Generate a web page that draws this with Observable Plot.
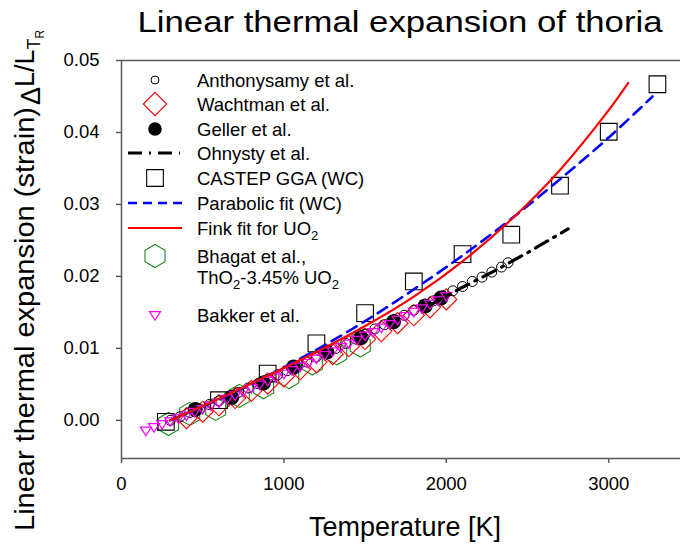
<!DOCTYPE html>
<html><head><meta charset="utf-8">
<script src="https://cdn.jsdelivr.net/npm/d3@7"></script>
<script src="https://cdn.jsdelivr.net/npm/@observablehq/plot@0.6"></script>
<style>
body{margin:0;background:#fff;}
svg{font-family:"Liberation Sans",Arial,sans-serif;}
</style>
</head><body><div id="chart"></div>
<script>
// ---- data ----
const xTicks = [0, 1000, 2000, 3000];
const yTicks = [0.00, 0.01, 0.02, 0.03, 0.04, 0.05];
const xDomain = [0, 3442];
const yDomain = [-0.0053, 0.05];

const anthonysamyT = [300,360,420,480,540,600,660,720,780,840,900,960,1020,1080,1140,1200,1260,1320,1380,1440,1500,1560,1620,1680,1740,1800,1860,1920,1980,2040,2100,2160,2220,2280,2340,2380];
const anthonysamyV = [0.0000,0.0005,0.0011,0.0016,0.0022,0.0027,0.0033,0.0039,0.0045,0.0051,0.0057,0.0063,0.0069,0.0075,0.0081,0.0088,0.0094,0.0100,0.0107,0.0113,0.0120,0.0127,0.0133,0.0140,0.0146,0.0153,0.0160,0.0166,0.0173,0.0180,0.0186,0.0193,0.0199,0.0206,0.0213,0.0219];

const wachtmanT = [400,500,600,700,800,900,1000,1100,1200,1300,1400,1500,1600,1700,1800,1900,2000];
const wachtmanV = [0.0003,0.0012,0.0021,0.0031,0.0041,0.0051,0.0061,0.0071,0.0081,0.0092,0.0103,0.0113,0.0124,0.0135,0.0146,0.0157,0.0168];

const gellerT = [454,679,874,1059,1265,1475,1675,1870,1967];
const gellerV = [0.0015,0.0032,0.0052,0.0074,0.0095,0.0115,0.0137,0.0159,0.0170];

const ohnystyT = [1900,2100,2300,2500,2750];
const ohnystyV = [0.0160,0.0185,0.0208,0.0233,0.0266];

const castepT = [273,600,900,1200,1500,1800,2100,2400,2700,3000,3300];
const castepV = [-0.0002,0.0028,0.0065,0.0107,0.0149,0.0193,0.0231,0.0258,0.0326,0.0401,0.0467];

const parabolicT = [300,600,900,1200,1500,1800,2100,2400,2700,3000,3270];
const parabolicV = [0.0000,0.0029,0.0062,0.0098,0.0138,0.0182,0.0229,0.0280,0.0335,0.0393,0.0450];

const finkT = [300,600,900,1200,1500,1800,2100,2400,2700,3000,3120];
const finkV = [0.0000,0.0030,0.0062,0.0095,0.0131,0.0172,0.0221,0.0279,0.0348,0.0431,0.0469];

const bhagatT = [290,420,580,725,875,1030,1175,1325,1470];
const bhagatV = [-0.0005,0.0009,0.0016,0.0034,0.0046,0.0060,0.0079,0.0093,0.0104];

const bakkerT = [150,200,250,300,350,400,450,500,550,600,650,700,750,800,850,900,950,1000,1050,1100,1150,1200,1250,1300,1350,1400,1450,1500,1550,1600,1650,1700,1750,1800,1850,1900,1950,2000];
const bakkerV = [-0.0014,-0.0009,-0.0005,-0.0001,0.0003,0.0007,0.0012,0.0016,0.0021,0.0025,0.0030,0.0035,0.0040,0.0045,0.0050,0.0055,0.0060,0.0065,0.0070,0.0075,0.0080,0.0086,0.0091,0.0096,0.0102,0.0107,0.0112,0.0118,0.0123,0.0129,0.0134,0.0140,0.0145,0.0151,0.0156,0.0162,0.0167,0.0173];

const toRows = (T, V) => T.map((t, i) => ({T: t, V: V[i]}));
const anthonysamy = toRows(anthonysamyT, anthonysamyV);
const wachtman = toRows(wachtmanT, wachtmanV);
const geller = toRows(gellerT, gellerV);
const ohnysty = toRows(ohnystyT, ohnystyV);
const castep = toRows(castepT, castepV);
const parabolic = toRows(parabolicT, parabolicV);
const fink = toRows(finkT, finkV);
const bhagat = toRows(bhagatT, bhagatV);
const bakker = toRows(bakkerT, bakkerV);

// ---- symbols ----
const hexSym = {draw(ctx, size){ const rx = Math.sqrt(size/Math.PI), ry = rx*2/Math.sqrt(3), hy = ry/2;
  ctx.moveTo(0, ry); ctx.lineTo(rx, hy); ctx.lineTo(rx, -hy); ctx.lineTo(0, -ry); ctx.lineTo(-rx, -hy); ctx.lineTo(-rx, hy); ctx.closePath(); }};
const triDown = {draw(ctx, size){ const r = Math.sqrt(size/Math.PI);
  ctx.moveTo(-r, -0.6*r); ctx.lineTo(r, -0.6*r); ctx.lineTo(0, 0.95*r); ctx.closePath(); }};

const axisColor = "#5a5a5a";

const chart = Plot.plot({
  width: 680, height: 546,
  marginLeft: 121, marginRight: 0, marginTop: 60, marginBottom: 88,
  style: {fontFamily: "'Liberation Sans', Arial, sans-serif", fontSize: "18.5px", color: "#000", background: "#fff", overflow: "visible"},
  x: {domain: xDomain, ticks: xTicks, tickFormat: d => String(d), tickSize: 5, tickPadding: 13, label: null},
  y: {domain: yDomain, ticks: yTicks, tickFormat: d3.format(".2f"), tickSize: 5, tickPadding: 17, label: null},
  marks: [
    Plot.dot(bhagat, {x: "T", y: "V", symbol: hexSym, r: 10, stroke: "#1a8a1a", fill: "none", strokeWidth: 1.1}),
    Plot.dot(wachtman, {x: "T", y: "V", symbol: d3.symbolDiamond2, r: 9.5, stroke: "#ff0000", fill: "none", strokeWidth: 1.1}),
    Plot.dot(castep, {x: "T", y: "V", symbol: d3.symbolSquare, r: 9.4, stroke: "#000", fill: "none", strokeWidth: 1.1}),
    Plot.dot(anthonysamy, {x: "T", y: "V", r: 5, stroke: "#000", fill: "none", strokeWidth: 1}),
    Plot.dot(geller, {x: "T", y: "V", r: 7.5, fill: "#000", stroke: "none"}),
    Plot.dot(bakker, {x: "T", y: "V", symbol: triDown, r: 5.5, stroke: "#ff00ff", fill: "none", strokeWidth: 1.2}),
    Plot.line(ohnysty, {x: "T", y: "V", stroke: "#000", strokeWidth: 3.2, strokeDasharray: "14,7,2,7"}),
    Plot.line(parabolic, {x: "T", y: "V", curve: "catmull-rom", stroke: "#0000ff", strokeWidth: 2.6, strokeDasharray: "11,7"}),
    Plot.line(fink, {x: "T", y: "V", curve: "catmull-rom", stroke: "#ff0000", strokeWidth: 2.2}),
    Plot.ruleY([yDomain[1]], {stroke: axisColor, strokeWidth: 1.5}),
    Plot.ruleY([yDomain[0]], {stroke: axisColor, strokeWidth: 1.5}),
    Plot.ruleX([xDomain[0]], {stroke: axisColor, strokeWidth: 1.5})
  ]
});
document.getElementById("chart").appendChild(chart);

const svg = d3.select(chart);
svg.selectAll('[aria-label="x-axis tick"], [aria-label="y-axis tick"]').attr("stroke", axisColor).attr("stroke-width", 1.5);

// Title
svg.append("text").attr("x", 400).attr("y", 32).attr("text-anchor", "middle")
  .attr("font-size", 30).attr("textLength", 525).attr("lengthAdjust", "spacingAndGlyphs")
  .attr("fill", "#000").text("Linear thermal expansion of thoria");

// X-axis title
svg.append("text").attr("x", 405).attr("y", 536).attr("text-anchor", "middle")
  .attr("font-size", 27).attr("fill", "#000").text("Temperature [K]");

// Y-axis title (rotated)
const yl = svg.append("text").attr("transform", "translate(34,531) rotate(-90)")
  .attr("text-anchor", "start").attr("font-size", 27).attr("fill", "#000");
yl.append("tspan").attr("textLength", 424).attr("lengthAdjust", "spacingAndGlyphs").text("Linear thermal expansion (strain)");
yl.append("tspan").attr("dy", 6).attr("dx", 2).text("Δ");
yl.append("tspan").attr("dy", -6).text("L/L");
yl.append("tspan").attr("dy", 6).attr("font-size", 18).text("T");
yl.append("tspan").attr("dy", 4).attr("font-size", 12).text("R");

// Legend
const lg = svg.append("g").attr("font-size", 18.5).attr("fill", "#000").attr("text-anchor", "start");
const lx = 155, tx = 197;
const rows = [
  {y: 80, label: ["Anthonysamy et al."], kind: "circle"},
  {y: 104, label: ["Wachtman et al."], kind: "diamond"},
  {y: 129, label: ["Geller et al."], kind: "filled"},
  {y: 153, label: ["Ohnysty et al."], kind: "dashdot"},
  {y: 178, label: ["CASTEP GGA (WC)"], kind: "square"},
  {y: 203, label: ["Parabolic fit (WC)"], kind: "dashed"},
  {y: 228, label: ["Fink fit for UO", "2"], kind: "solid"},
  {y: 256, label: ["Bhagat et al.,"], kind: "hex"},
  {y: 315, label: ["Bakker et al."], kind: "tri"}
];
const sym = (type, rr) => d3.symbol(type, Math.PI * rr * rr)();
for (const r of rows) {
  const t = lg.append("text").attr("x", tx).attr("y", r.y + 6.5);
  t.append("tspan").text(r.label[0]);
  if (r.label[1]) t.append("tspan").attr("dy", 5).attr("font-size", 13).text(r.label[1]);
  if (r.kind === "circle") lg.append("path").attr("d", sym(d3.symbolCircle, 4)).attr("transform", `translate(${lx},${r.y})`).attr("fill", "none").attr("stroke", "#000");
  if (r.kind === "diamond") lg.append("path").attr("d", sym(d3.symbolDiamond2, 10.5)).attr("transform", `translate(${lx},${r.y})`).attr("fill", "none").attr("stroke", "#ff0000").attr("stroke-width", 1.1);
  if (r.kind === "filled") lg.append("path").attr("d", sym(d3.symbolCircle, 6.8)).attr("transform", `translate(${lx},${r.y})`).attr("fill", "#000");
  if (r.kind === "square") lg.append("path").attr("d", sym(d3.symbolSquare, 9.4)).attr("transform", `translate(${lx},${r.y})`).attr("fill", "none").attr("stroke", "#000").attr("stroke-width", 1.1);
  if (r.kind === "hex") lg.append("path").attr("d", sym(hexSym, 10)).attr("transform", `translate(${lx},${r.y})`).attr("fill", "none").attr("stroke", "#1a8a1a").attr("stroke-width", 1.1);
  if (r.kind === "tri") lg.append("path").attr("d", sym(triDown, 5.5)).attr("transform", `translate(${lx},${r.y})`).attr("fill", "none").attr("stroke", "#ff00ff").attr("stroke-width", 1.2);
  if (r.kind === "dashdot") lg.append("line").attr("x1", 128).attr("x2", 180).attr("y1", r.y).attr("y2", r.y).attr("stroke", "#000").attr("stroke-width", 3.2).attr("stroke-dasharray", "14,7,2,7");
  if (r.kind === "dashed") lg.append("line").attr("x1", 128).attr("x2", 182).attr("y1", r.y).attr("y2", r.y).attr("stroke", "#0000ff").attr("stroke-width", 2.6).attr("stroke-dasharray", "9,6");
  if (r.kind === "solid") lg.append("line").attr("x1", 128).attr("x2", 182).attr("y1", r.y).attr("y2", r.y).attr("stroke", "#ff0000").attr("stroke-width", 2.2);
}
const t2 = lg.append("text").attr("x", tx).attr("y", 277 + 6.5);
t2.append("tspan").text("ThO");
t2.append("tspan").attr("dy", 5).attr("font-size", 13).text("2");
t2.append("tspan").attr("dy", -5).text("-3.45% UO");
t2.append("tspan").attr("dy", 5).attr("font-size", 13).text("2");
</script>
</body></html>
